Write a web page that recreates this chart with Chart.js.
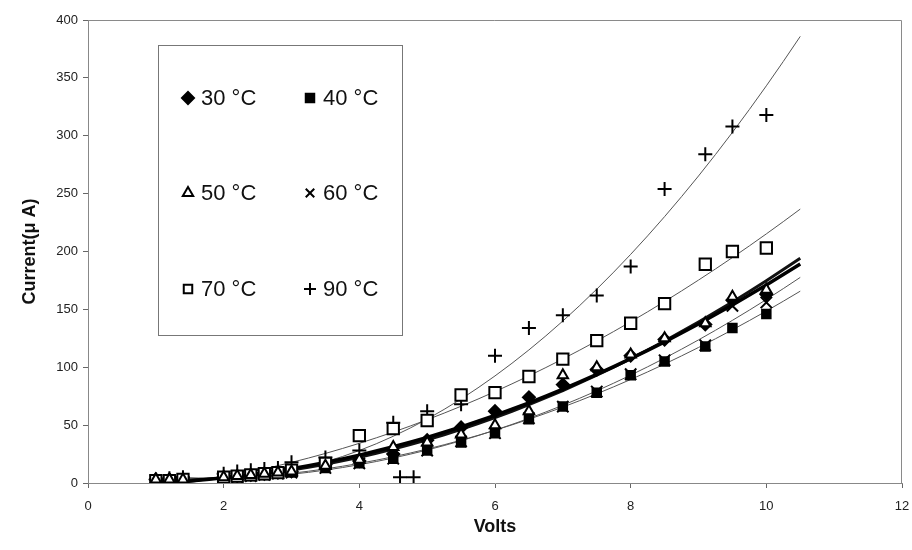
<!DOCTYPE html>
<html>
<head>
<meta charset="utf-8">
<script src="https://cdn.jsdelivr.net/npm/chart.js@4.4.1/dist/chart.umd.min.js"></script>
<style>
  html, body { margin: 0; padding: 0; background: #fff; }
  #wrap { position: relative; width: 912px; height: 550px; }
</style>
</head>
<body>
<div id="wrap"><canvas id="chart" width="912" height="550"></canvas></div>
<script>
'use strict';

// ── Data ─────────────────────────────────────────────────────────────────────
var volts = [1, 1.2, 1.4, 2, 2.2, 2.4, 2.6, 2.8, 3, 3.5, 4, 4.5, 5, 5.5, 6, 6.5, 7, 7.5, 8, 8.5, 9.1, 9.5, 10];

var cur30 = [3, 3, 3, 5, 6, 7, 8, 9, 10, 16, 19, 25, 37, 48, 62, 74, 85, 98, 110, 124, 137, 158, 163];
var cur40 = [2, 2, 2, 4, 5, 6, 7, 8, 9, 13, 17, 21, 28, 35, 43, 55, 66, 78, 93, 105, 118, 134, 146];
var cur50 = [3, 3, 3, 5, 6, 7, 8, 9, 10, 15, 20, 31, 35, 42, 50, 62, 93, 100, 111, 125, 138, 161, 167];
var cur60 = [2, 2, 3, 4, 5, 6, 7, 8, 9, 13, 17, 21, 28, 36, 43, 56, 66, 79, 94, 106, 119, 153, 156];
var cur70 = [2, 2, 3, 5, 6, 7, 8, 9, 11, 17, 41, 47, 54, 76, 78, 92, 107, 123, 138, 155, 189, 200, 203];

var volts90 = [1, 1.2, 1.4, 2, 2.2, 2.4, 2.6, 2.8, 3, 3.5, 4, 4.5, 4.6, 4.8, 5, 5.5, 6, 6.5, 7, 7.5, 8, 8.5, 9.1, 9.5, 10];
var cur90   = [3, 4, 5, 8, 10, 11, 12, 13, 18, 22, 28, 52, 5, 5, 62, 68, 110, 134, 145, 162, 187, 254, 284, 308, 318];

var xTicks = [0, 2, 4, 6, 8, 10, 12];
var yTicks = [0, 50, 100, 150, 200, 250, 300, 350, 400];

var labels = ['30 °C', '40 °C', '50 °C', '60 °C', '70 °C', '90 °C'];

// ── Helpers ──────────────────────────────────────────────────────────────────
function toPoints(xs, ys) {
    return xs.map(function (x, i) { return { x: x, y: ys[i] }; });
}

// least-squares quadratic trendline, like the spreadsheet one
function trend(xs, ys) {
    var s = [0, 0, 0, 0, 0], t = [0, 0, 0];
    xs.forEach(function (x, i) {
        var p = 1;
        for (var k = 0; k < 5; k++) { s[k] += p; if (k < 3) { t[k] += p * ys[i]; } p *= x; }
    });
    var m = [[s[0], s[1], s[2], t[0]], [s[1], s[2], s[3], t[1]], [s[2], s[3], s[4], t[2]]];
    for (var c = 0; c < 3; c++) {
        for (var r = c + 1; r < 3; r++) {
            var f = m[r][c] / m[c][c];
            for (var j = c; j < 4; j++) { m[r][j] -= f * m[c][j]; }
        }
    }
    var b = [0, 0, 0];
    for (var i = 2; i >= 0; i--) {
        var v = m[i][3];
        for (var j2 = i + 1; j2 < 3; j2++) { v -= m[i][j2] * b[j2]; }
        b[i] = v / m[i][i];
    }
    var pts = [];
    for (var x = 1; x <= 10.5001; x += 0.25) {
        pts.push({ x: x, y: b[0] + b[1] * x + b[2] * x * x });
    }
    return pts;
}

function markerSet(label, data, m) {
    return {
        type: 'scatter',
        label: label,
        data: data,
        pointStyle: m.style,
        pointRadius: m.r,
        pointHoverRadius: m.r,
        borderColor: '#000',
        backgroundColor: m.filled ? '#000' : '#fff',
        pointBorderWidth: 2,
        order: m.order
    };
}

function trendSet(data, width, color) {
    return {
        type: 'line',
        data: data,
        borderColor: color,
        borderWidth: width,
        pointRadius: 0,
        fill: false,
        tension: 0,
        order: 2
    };
}

// higher order = drawn further below
var markers = [
    { style: 'rectRot',  r: 6,   filled: true,  order: 1.3 },
    { style: 'rect',     r: 6,   filled: true,  order: 1.6 },
    { style: 'triangle', r: 6,   filled: false, order: 1 },
    { style: 'crossRot', r: 8,   filled: false, order: 1.1 },
    { style: 'rect',     r: 8,   filled: false, order: 1 },
    { style: 'cross',    r: 7,   filled: false, order: 1 }
];

// ── Plugins: frame + 2-column legend box ─────────────────────────────────────
var framePlugin = {
    id: 'frame',
    beforeDatasetsDraw: function (chart) {
        var a = chart.chartArea, ctx = chart.ctx;
        ctx.save();
        ctx.strokeStyle = '#8a8a8a';
        ctx.lineWidth = 1;
        ctx.beginPath();
        ctx.moveTo(a.left, a.top + 0.5);
        ctx.lineTo(a.right - 0.5, a.top + 0.5);
        ctx.lineTo(a.right - 0.5, a.bottom);
        ctx.stroke();
        ctx.restore();
    }
};

var legendPlugin = {
    id: 'boxLegend',
    afterDraw: function (chart) {
        var ctx = chart.ctx;
        ctx.save();
        ctx.fillStyle = '#fff';
        ctx.fillRect(158, 45, 244, 290);
        ctx.strokeStyle = '#777';
        ctx.lineWidth = 1;
        ctx.strokeRect(158.5, 45.5, 244, 290);
        ctx.font = '22px "Liberation Sans", Arial, sans-serif';
        ctx.textBaseline = 'middle';
        var colX = [188, 310], rowY = [98, 193, 289];
        labels.forEach(function (lab, i) {
            var mx = colX[i % 2], my = rowY[Math.floor(i / 2)];
            var m = markers[i];
            ctx.strokeStyle = '#000';
            ctx.fillStyle = m.filled ? '#000' : '#fff';
            ctx.lineWidth = 2;
            Chart.helpers.drawPoint(ctx, { pointStyle: m.style, radius: 6, borderWidth: 2 }, mx, my);
            ctx.fillStyle = '#111';
            ctx.fillText(lab, mx + 13, my + 1);
        });
        ctx.restore();
    }
};

// ── Chart ────────────────────────────────────────────────────────────────────
var series = [cur30, cur40, cur50, cur60, cur70];
var datasets = [];
series.forEach(function (ys, i) {
    datasets.push(markerSet(labels[i], toPoints(volts, ys), markers[i]));
});
datasets.push(markerSet(labels[5], toPoints(volts90, cur90), markers[5]));

datasets.push(trendSet(trend(volts, cur30), 3.5, '#000'));
datasets.push(trendSet(trend(volts, cur40), 1, '#555'));
datasets.push(trendSet(trend(volts, cur50), 3, '#111'));
datasets.push(trendSet(trend(volts, cur60), 1, '#555'));
datasets.push(trendSet(trend(volts, cur70), 1, '#555'));
datasets.push(trendSet(trend(volts90, cur90), 1, '#555'));

Chart.defaults.font.family = '"Liberation Sans", Arial, sans-serif';
Chart.defaults.color = '#222';

new Chart(document.getElementById('chart').getContext('2d'), {
    type: 'scatter',
    data: { datasets: datasets },
    plugins: [framePlugin, legendPlugin],
    options: {
        responsive: false,
        animation: false,
        layout: { padding: { top: 20, right: 5, left: 0, bottom: 0 } },
        plugins: { legend: { display: false }, tooltip: { enabled: false } },
        scales: {
            x: {
                type: 'linear',
                min: 0, max: 12,
                afterFit: function (s) { s.height = 67; s.paddingRight = 0; s.paddingLeft = 0; },
                afterBuildTicks: function (s) { s.ticks = xTicks.map(function (v) { return { value: v }; }); },
                grid: { drawOnChartArea: false, tickLength: 5, color: '#666' },
                border: { color: '#888', width: 1 },
                ticks: { font: { size: 13 }, padding: 11, color: '#222' },
                title: { display: true, text: 'Volts', font: { size: 18, weight: 'bold' }, color: '#111', padding: { top: 4, bottom: 12 } }
            },
            y: {
                type: 'linear',
                min: 0, max: 400,
                afterFit: function (s) { s.width = 88; s.paddingTop = 0; s.paddingBottom = 0; },
                afterBuildTicks: function (s) { s.ticks = yTicks.map(function (v) { return { value: v }; }); },
                grid: { drawOnChartArea: false, tickLength: 5, color: '#666' },
                border: { color: '#888', width: 1 },
                ticks: { font: { size: 13 }, padding: 5, color: '#222' },
                title: { display: true, text: 'Current(μ A)', font: { size: 18, weight: 'bold' }, color: '#111', padding: { top: 19, bottom: 0 } }
            }
        }
    }
});
</script>
</body>
</html>
